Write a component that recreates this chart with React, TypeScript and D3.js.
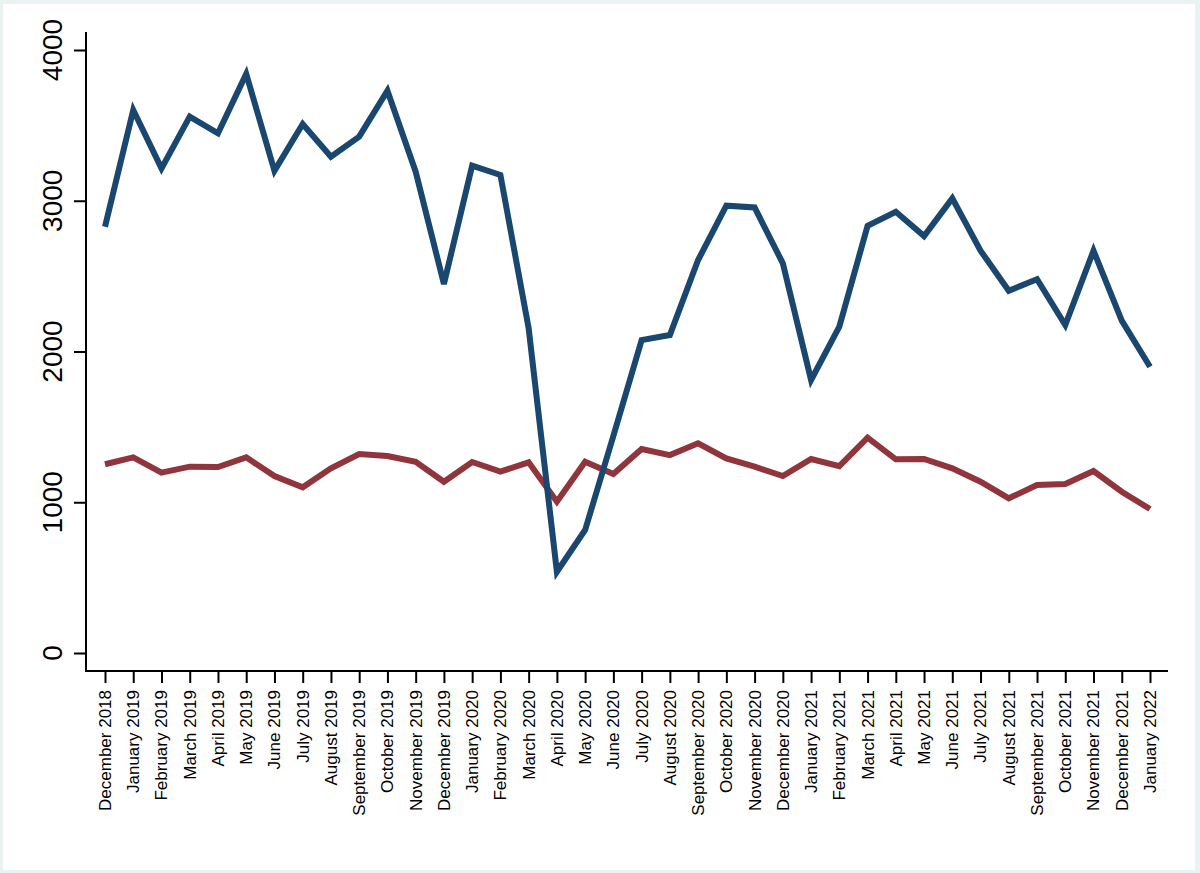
import { useEffect, useRef } from 'react';
import * as d3 from 'd3';

const months = [
  'December 2018', 'January 2019', 'February 2019', 'March 2019', 'April 2019', 'May 2019',
  'June 2019', 'July 2019', 'August 2019', 'September 2019', 'October 2019', 'November 2019',
  'December 2019', 'January 2020', 'February 2020', 'March 2020', 'April 2020', 'May 2020',
  'June 2020', 'July 2020', 'August 2020', 'September 2020', 'October 2020', 'November 2020',
  'December 2020', 'January 2021', 'February 2021', 'March 2021', 'April 2021', 'May 2021',
  'June 2021', 'July 2021', 'August 2021', 'September 2021', 'October 2021', 'November 2021',
  'December 2021', 'January 2022',
];

const blueSeries = [
  2828, 3602, 3215, 3558, 3447, 3841, 3199, 3509, 3292, 3425, 3730, 3193,
  2448, 3233, 3171, 2154, 539, 816, 1440, 2076, 2109, 2607, 2967, 2956,
  2585, 1811, 2165, 2833, 2927, 2766, 3016, 2669, 2403, 2479, 2176, 2669,
  2205, 1899,
];

const redSeries = [
  1252, 1298, 1196, 1236, 1234, 1298, 1174, 1099, 1225, 1320, 1307, 1269,
  1136, 1267, 1203, 1265, 1004, 1269, 1187, 1353, 1313, 1391, 1291, 1236,
  1174, 1287, 1240, 1428, 1285, 1287, 1225, 1136, 1026, 1114, 1121, 1207,
  1070, 955,
];

const yTicks = [0, 1000, 2000, 3000, 4000];

const WIDTH = 1200;
const HEIGHT = 873;

export default function App() {
  const svgRef = useRef<SVGSVGElement>(null);

  useEffect(() => {
    document.body.style.margin = '0';
    if (!svgRef.current) return;

    const svg = d3.select(svgRef.current);
    svg.selectAll('*').remove();

    // outer frame, Stata style
    svg.append('rect')
      .attr('width', WIDTH)
      .attr('height', HEIGHT)
      .attr('fill', '#eaf2f3');
    svg.append('rect')
      .attr('x', 3)
      .attr('y', 4)
      .attr('width', 1192)
      .attr('height', 866)
      .attr('fill', '#ffffff');

    const x = d3.scaleLinear().domain([0, months.length - 1]).range([105, 1150]);
    const y = d3.scaleLinear().domain([0, 4000]).range([653, 50]);

    const axisX0 = 86;
    const axisY0 = 671;
    const font = 'Liberation Sans, Arial, Helvetica, sans-serif';

    // y axis
    const yAxis = svg.append('g')
      .attr('transform', `translate(${axisX0},0)`)
      .call(d3.axisLeft(y).tickValues(yTicks).tickSize(12).tickPadding(0).tickFormat(() => ''));
    yAxis.select('.domain').remove();
    yAxis.selectAll('line').attr('stroke', '#000').attr('stroke-width', 2);

    svg.append('line')
      .attr('x1', axisX0).attr('x2', axisX0)
      .attr('y1', 32).attr('y2', axisY0 + 1)
      .attr('stroke', '#000').attr('stroke-width', 2);

    svg.append('g')
      .selectAll('text')
      .data(yTicks)
      .enter().append('text')
      .attr('transform', d => `translate(62,${y(d)}) rotate(-90)`)
      .attr('text-anchor', 'middle')
      .style('font-family', font)
      .style('font-size', '28px')
      .style('fill', '#000')
      .text(d => String(d));

    // x axis
    const xAxis = svg.append('g')
      .attr('transform', `translate(0,${axisY0})`)
      .call(d3.axisBottom(x).tickValues(d3.range(months.length)).tickSize(12).tickFormat(() => ''));
    xAxis.select('.domain').remove();
    xAxis.selectAll('line').attr('stroke', '#000').attr('stroke-width', 2);

    svg.append('line')
      .attr('x1', axisX0 - 1).attr('x2', 1168)
      .attr('y1', axisY0).attr('y2', axisY0)
      .attr('stroke', '#000').attr('stroke-width', 2);

    svg.append('g')
      .selectAll('text')
      .data(months)
      .enter().append('text')
      .attr('transform', (_, i) => `translate(${x(i)},690) rotate(-90)`)
      .attr('text-anchor', 'end')
      .attr('dy', '0.35em')
      .style('font-family', font)
      .style('font-size', '17px')
      .style('fill', '#000')
      .text(d => d);

    // series
    const line = d3.line<number>()
      .x((_, i) => x(i))
      .y(d => y(d));

    svg.append('path')
      .datum(redSeries)
      .attr('d', line)
      .attr('fill', 'none')
      .attr('stroke', '#90353b')
      .attr('stroke-width', 6)
      .attr('stroke-linejoin', 'miter');

    svg.append('path')
      .datum(blueSeries)
      .attr('d', line)
      .attr('fill', 'none')
      .attr('stroke', '#1a476f')
      .attr('stroke-width', 6)
      .attr('stroke-linejoin', 'miter');
  }, []);

  return <svg ref={svgRef} width={WIDTH} height={HEIGHT} style={{ display: 'block' }}></svg>;
}
